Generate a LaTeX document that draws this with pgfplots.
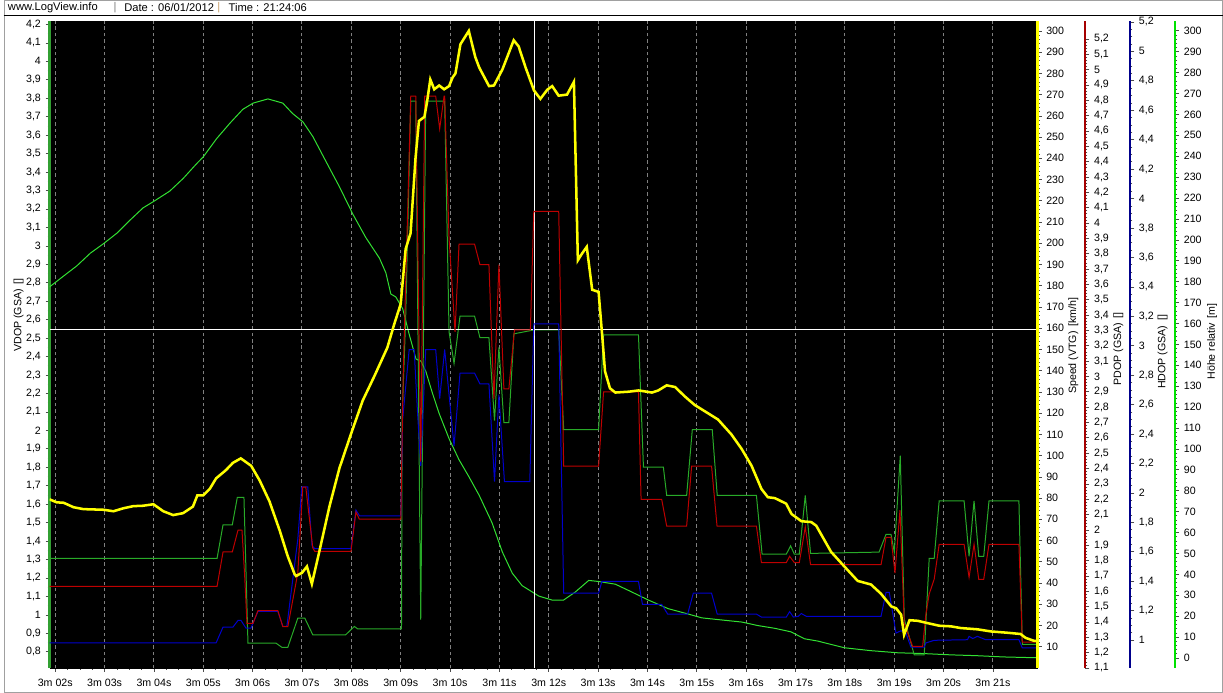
\documentclass[border=0pt]{standalone}
\usepackage{fontspec}
\setmainfont{Liberation Sans}
\usepackage{pgfplots}
\pgfplotsset{compat=1.18}
\definecolor{cyell}{RGB}{255,255,0}
\definecolor{cred}{RGB}{190,0,0}
\definecolor{credax}{RGB}{165,0,0}
\definecolor{cblue}{RGB}{0,0,205}
\definecolor{cblueax}{RGB}{0,0,140}
\definecolor{cvdop}{RGB}{40,170,40}
\definecolor{cvdopax}{RGB}{50,160,50}
\definecolor{choehe}{RGB}{50,225,50}
\definecolor{choeheax}{RGB}{0,225,0}
\definecolor{cgrid}{RGB}{128,128,128}
\definecolor{cframe}{RGB}{160,160,160}
\pgfplotsset{
 plotarea/.style={scale only axis, width=743.25pt, height=486.75pt, at={(34.5pt,18.75pt)}, anchor=south west, xmin=1.8848, xmax=21.905},
 commonticks/.style={tick align=outside, major tick length=3pt, minor tick length=1.5pt, tick style={draw=black!70, line width=0.5pt}, tick label style={font=\fontsize{8}{9}\selectfont, text=black}},
 sideaxis/.style n args={2}{scale only axis, width=1pt, height=486.75pt, at={(#1,18.75pt)}, anchor=south east, xmin=0, xmax=1, hide x axis, axis y line*=right, y axis line style={-, draw=#2, line width=1.5pt}, commonticks},
}
\begin{document}
\pgfkeys{/pgf/number format/.cd, use comma, fixed, precision=1, assume math mode=true}
\begin{tikzpicture}
\useasboundingbox (0,0) rectangle (917.25pt,521.25pt);
\fill[white] (0,0) rectangle (917.25pt,521.25pt);
\draw[cframe, line width=0.75pt] (0.375pt,0.375pt) rectangle (916.875pt,520.875pt);
\draw[black, line width=0.75pt] (0,509.25pt) -- (917.25pt,509.25pt);
\begin{scope}[every node/.style={font=\fontsize{8.4}{10}\selectfont, inner sep=0pt, anchor=west}]
\node at (3pt,515.25pt) {www.LogView.info};
\node[text=gray] at (82.5pt,515.25pt) {|};
\node at (90.5pt,515.25pt) {Date : 06/01/2012};
\node[text={rgb,255:red,200;green,160;blue,110}] at (160.5pt,515.25pt) {|};
\node at (169pt,515.25pt) {Time : 21:24:06};
\end{scope}

% base axis: background, grid, x axis, VDOP axis
\begin{axis}[plotarea, ymin=0.712, ymax=4.219,
 axis background/.style={fill=black},
 axis x line*=bottom, axis y line*=left,
 x axis line style={-, draw=black}, y axis line style={-, draw=cvdopax, line width=1.6pt},
 commonticks, xticklabel style={yshift=-1.5pt},
 xtick={2,...,21},
 xticklabels={3m 02s,3m 03s,3m 04s,3m 05s,3m 06s,3m 07s,3m 08s,3m 09s,3m 10s,3m 11s,3m 12s,3m 13s,3m 14s,3m 15s,3m 16s,3m 17s,3m 18s,3m 19s,3m 20s,3m 21s},
 minor x tick num=3,
 ytick={0.8,0.9,1,1.1,1.2,1.3,1.4,1.5,1.6,1.7,1.8,1.9,2,2.1,2.2,2.3,2.4,2.5,2.6,2.7,2.8,2.9,3,3.1,3.2,3.3,3.4,3.5,3.6,3.7,3.8,3.9,4,4.1,4.2}, minor y tick num=1,
 xmajorgrids, major x grid style={draw=cgrid, dash pattern=on 2.6pt off 2.2pt, line width=0.75pt},
]
\addplot[draw=none] coordinates {(2,1)};
\end{axis}

% Hoehe relativ
\begin{axis}[plotarea, ymin=-4.77, ymax=304.7, hide axis]
\addplot[choehe, line width=0.75pt] coordinates {
(1.885,177.5) (2.17,182.7) (2.44,187.6) (2.71,193.6) (2.98,198.2) (3.25,203.2) (3.51,209.3) (3.78,215.3) (3.99,218.3) (4.32,223.3) (4.59,229.3) (4.86,236.3) (5.00,239.7) (5.27,248.4) (5.54,255.8) (5.80,262.4) (6.01,265.4) (6.31,267.4) (6.61,265.4) (6.81,260.4) (7.02,256.4) (7.22,249.4) (7.49,237.3) (7.76,225.3) (8.03,212.3) (8.29,201.2) (8.57,191.2) (8.70,184.2) (8.80,174.1) (8.90,172.7) (9.04,167.1) (9.17,155) (9.31,143) (9.41,142) (9.51,137) (9.64,126.9) (9.78,116.9) (9.98,104.9) (10.18,94.9) (10.38,86.8) (10.59,77.8) (10.85,64.7) (11.06,50.7) (11.26,40.6) (11.46,34.6) (11.80,29.6) (12.07,27.7) (12.30,27.7) (12.54,31.6) (12.81,37.1) (13.01,36.6) (13.35,35.3) (13.68,31.6) (14.02,27.7) (14.42,23.6) (14.83,21) (15.10,19.2) (15.50,18.2) (15.91,17.2) (16.24,15.5) (16.58,14.2) (16.91,12.5) (17.18,9.2) (17.45,8.1) (17.99,4.9) (18.53,3.5) (19.07,2.5) (19.61,2.1) (20.15,1.5) (20.68,1.1) (21.22,0.5) (21.905,0.1)};
\end{axis}

% VDOP
\begin{axis}[plotarea, ymin=0.712, ymax=4.219, hide axis]
\addplot[cvdop, line width=0.75pt] coordinates {
(1.885,1.306) (5.279,1.306) (5.400,1.488) (5.588,1.488) (5.689,1.636) (5.824,1.636) (5.905,0.847) (6.471,0.847) (6.592,0.824) (6.713,0.824) (6.915,0.982) (7.057,0.982) (7.218,0.892) (7.885,0.892) (8.061,0.937) (8.127,0.924) (9.016,0.924) (9.03,2.08) (9.10,2.6) (9.204,3.784) (9.305,3.784) (9.406,0.974) (9.507,3.784) (9.891,3.784) (9.980,2.534) (10.081,2.363) (10.202,2.619) (10.497,2.619) (10.606,2.502) (10.788,2.502) (10.901,2.053) (10.990,2.449) (11.091,2.042) (11.192,2.042) (11.293,2.523) (11.697,2.544) (12.202,2.544) (12.303,2.004) (13.010,2.004) (13.111,2.518) (13.818,2.518) (13.919,1.800) (14.323,1.800) (14.390,1.647) (14.794,1.647) (14.909,2.004) (15.313,2.004) (15.414,1.647) (16.208,1.647) (16.323,1.329) (16.814,1.329) (16.901,1.374) (16.976,1.329) (17.077,1.329) (17.198,1.647) (17.305,1.333) (18.693,1.340) (18.834,1.436) (18.935,1.436) (19.002,1.340) (19.123,1.863) (19.204,0.977) (19.406,0.783) (19.608,0.783) (19.709,1.306) (19.810,1.306) (19.911,1.618) (20.416,1.618) (20.517,1.317) (20.618,1.618) (20.713,1.317) (20.814,1.317) (20.921,1.618) (21.527,1.618) (21.596,0.840) (21.905,0.840)};
\addplot[white, line width=0.75pt] coordinates {(1.885,2.549) (21.905,2.549)};
\addplot[white, line width=0.75pt] coordinates {(11.717,0.712) (11.717,4.219)};
\end{axis}

% HDOP
\begin{axis}[plotarea, ymin=0.810, ymax=5.207, hide axis]
\addplot[cblue, line width=0.75pt] coordinates {
(1.885,0.980) (5.259,0.980) (5.400,1.088) (5.602,1.088) (5.703,1.133) (5.764,1.133) (5.865,1.081) (5.966,1.081) (6.107,1.194) (6.511,1.194) (6.612,1.092) (6.693,1.092) (6.915,1.684) (6.996,2.040) (7.117,2.040) (7.204,1.641) (7.259,1.621) (7.992,1.621) (8.093,1.883) (8.168,1.843) (9.002,1.843) (9.04,2.5) (9.172,2.974) (9.273,2.974) (9.339,2.558) (9.406,2.184) (9.507,2.974) (9.709,2.974) (9.790,2.640) (9.891,2.974) (10.081,2.318) (10.202,2.813) (10.497,2.813) (10.606,2.741) (10.788,2.741) (10.901,2.077) (10.990,2.667) (11.102,2.077) (11.616,2.077) (11.697,3.148) (12.202,3.148) (12.303,1.318) (13.010,1.318) (13.077,1.398) (13.818,1.398) (13.899,1.242) (14.289,1.242) (14.410,1.176) (14.814,1.176) (14.929,1.318) (15.299,1.318) (15.414,1.176) (16.208,1.176) (16.309,1.156) (16.814,1.156) (16.881,1.193) (16.956,1.156) (17.057,1.161) (17.117,1.18) (17.218,1.161) (18.733,1.161) (18.834,1.323) (18.901,1.323) (19.036,1.047) (19.137,1.063) (19.238,1.047) (19.339,0.951) (19.608,0.951) (19.642,0.980) (19.810,0.998) (20.485,1.002) (20.517,1.025) (20.592,1.010) (20.686,1.025) (20.854,1.002) (21.527,1.002) (21.596,0.946) (21.905,0.946)};
\end{axis}

% PDOP
\begin{axis}[plotarea, ymin=1.1, ymax=5.317, hide axis]
\addplot[cred, line width=0.75pt] coordinates {
(1.885,1.632) (5.279,1.632) (5.400,1.856) (5.588,1.856) (5.703,1.998) (5.784,1.998) (5.838,1.704) (5.885,1.390) (6.006,1.390) (6.107,1.473) (6.511,1.473) (6.612,1.369) (6.713,1.369) (6.915,1.719) (7.016,2.279) (7.077,2.279) (7.218,1.883) (7.259,1.860) (7.992,1.860) (8.093,2.116) (8.162,2.070) (9.002,2.070) (9.05,3.0) (9.204,4.827) (9.305,4.827) (9.406,2.445) (9.487,4.827) (9.709,4.827) (9.790,4.614) (9.879,4.827) (9.891,4.827) (9.980,3.9) (10.101,3.291) (10.182,3.862) (10.497,3.862) (10.606,3.728) (10.788,3.728) (10.889,2.854) (10.990,3.728) (11.091,2.919) (11.192,2.919) (11.305,3.303) (11.628,3.303) (11.697,4.075) (12.202,4.075) (12.303,2.416) (13.010,2.416) (13.111,2.900) (13.818,2.900) (13.871,2.198) (14.289,2.198) (14.390,2.025) (14.794,2.025) (14.895,2.416) (15.299,2.416) (15.410,2.025) (16.208,2.025) (16.309,1.787) (16.814,1.787) (16.881,1.828) (16.976,1.787) (17.077,1.787) (17.198,2.019) (17.305,1.773) (18.733,1.773) (18.834,1.951) (18.935,1.951) (19.016,1.719) (19.117,2.129) (19.204,1.390) (19.374,1.240) (19.576,1.240) (19.642,1.45) (19.709,1.582) (19.810,1.678) (19.911,1.906) (20.416,1.906) (20.517,1.691) (20.618,1.906) (20.713,1.678) (20.814,1.678) (20.921,1.906) (21.527,1.906) (21.596,1.268) (21.905,1.268)};
\end{axis}

% Speed (with its yellow right axis)
\begin{axis}[plotarea, ymin=0, ymax=304.7, hide x axis, axis y line*=right,
 y axis line style={-, draw=cyell, line width=2pt}, commonticks,
 ytick={10,20,30,40,50,60,70,80,90,100,110,120,130,140,150,160,170,180,190,200,210,220,230,240,250,260,270,280,290,300}, minor y tick num=4]
\addplot[cyell, line width=1.9pt] coordinates {
(1.885,79.4) (2.03,78) (2.17,77.8) (2.37,75.7) (2.57,74.8) (2.98,74.5) (3.18,73.8) (3.38,75.2) (3.58,76.2) (3.78,76.4) (3.99,77.1) (4.19,73.8) (4.39,72) (4.59,72.9) (4.79,76) (4.88,81.3) (5.00,81.3) (5.13,84.3) (5.26,89.3) (5.46,93.2) (5.60,96.6) (5.76,98.7) (5.97,95.2) (6.14,88.4) (6.34,78.5) (6.55,64.6) (6.71,52.7) (6.85,44.2) (6.88,43.3) (7.00,44.8) (7.10,47.8) (7.20,39.6) (7.35,54.7) (7.56,76.4) (7.76,94.2) (7.99,110) (8.23,125.9) (8.47,137.6) (8.73,150.9) (8.87,162) (9.00,171.4) (9.10,197.3) (9.20,204.7) (9.30,240) (9.37,257.6) (9.48,259.5) (9.53,266) (9.60,277.1) (9.68,272.5) (9.78,274.3) (9.88,272.5) (9.98,274) (10.05,278) (10.11,280) (10.21,293.7) (10.38,300) (10.51,287.8) (10.59,282.8) (10.79,274) (10.89,274.3) (11.06,281.8) (11.29,295.6) (11.39,292.7) (11.53,282.8) (11.70,272) (11.83,268) (11.97,272.3) (12.07,274) (12.20,269.5) (12.37,270) (12.51,276) (12.54,244.3) (12.59,192) (12.67,195) (12.77,198.3) (12.88,178.1) (13.01,177.1) (13.08,157.4) (13.14,139.7) (13.24,131.7) (13.35,129.7) (13.62,130.1) (13.82,130.7) (14.09,129.7) (14.22,130.7) (14.39,133.1) (14.56,132.3) (14.76,127.8) (14.96,123.8) (15.23,119.9) (15.43,117) (15.70,110) (15.91,103.1) (16.11,95.2) (16.31,84.3) (16.44,80.4) (16.58,80) (16.81,77.4) (16.92,72.5) (17.12,69.1) (17.32,68.7) (17.42,67) (17.72,54.7) (17.99,47.8) (18.26,41) (18.53,39.3) (18.73,35) (18.94,29) (19.04,28.1) (19.14,25.1) (19.20,15.6) (19.31,22.5) (19.48,22.2) (19.68,21.1) (19.91,19.9) (20.15,19.6) (20.35,18.8) (20.69,18.2) (20.96,17.2) (21.29,16.6) (21.56,16) (21.66,14.2) (21.83,12.8) (21.905,12.8)};
\end{axis}

% side axes
\begin{axis}[sideaxis={813.75pt}{credax}, ymin=1.1, ymax=5.317, ytick={1.1,1.2,1.3,1.4,1.5,1.6,1.7,1.8,1.9,2,2.1,2.2,2.3,2.4,2.5,2.6,2.7,2.8,2.9,3,3.1,3.2,3.3,3.4,3.5,3.6,3.7,3.8,3.9,4,4.1,4.2,4.3,4.4,4.5,4.6,4.7,4.8,4.9,5,5.1,5.2}, minor y tick num=4]
\end{axis}
\begin{axis}[sideaxis={847.5pt}{cblueax}, ymin=0.810, ymax=5.207, ytick={1,1.2,1.4,1.6,1.8,2,2.2,2.4,2.6,2.8,3,3.2,3.4,3.6,3.8,4,4.2,4.4,4.6,4.8,5,5.2}, minor y tick num=3]
\end{axis}
\begin{axis}[sideaxis={881.25pt}{choeheax}, ymin=-4.77, ymax=304.7, ytick={0,10,20,30,40,50,60,70,80,90,100,110,120,130,140,150,160,170,180,190,200,210,220,230,240,250,260,270,280,290,300}, minor y tick num=4]
\end{axis}

\begin{scope}[every node/.style={font=\fontsize{8}{9.6}\selectfont, inner sep=0pt, rotate=90, anchor=center}]
\node at (11.25pt,284.25pt) {VDOP (GSA)\, []};
\node at (804.75pt,261.2pt) {Speed (VTG)\, [km/h]};
\node at (838.5pt,258.75pt) {PDOP (GSA)\, []};
\node at (871.9pt,256.5pt) {HDOP (GSA)\, []};
\node at (909pt,264.4pt) {Höhe relativ\, [m]};
\end{scope}
\end{tikzpicture}
\end{document}
